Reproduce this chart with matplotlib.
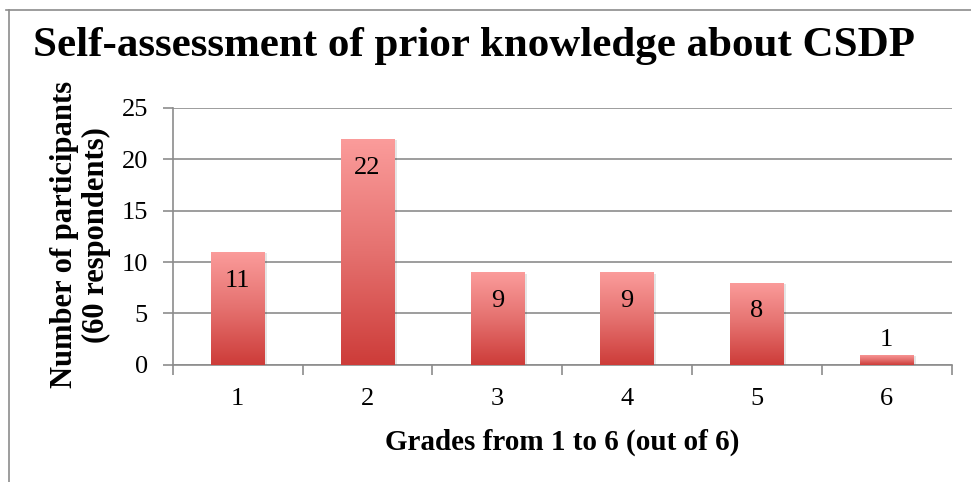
# Self-assessment bar chart
import numpy as np
import matplotlib.pyplot as plt
from matplotlib.colors import LinearSegmentedColormap
from matplotlib.patches import Rectangle

grades = ['1', '2', '3', '4', '5', '6']
participants = [11, 22, 9, 9, 8, 1]

plt.rcParams['font.family'] = ['Liberation Serif', 'DejaVu Serif']

fig = plt.figure(figsize=(9.71, 4.82), dpi=100)
ax = fig.add_axes([0.178, 0.243, 0.802, 0.533])

# chart frame (only top and left edges are visible in the crop)
fig.add_artist(plt.Line2D([0.006, 1.0], [0.979, 0.979], transform=fig.transFigure, color='#8c8c8c', lw=1.2))
fig.add_artist(plt.Line2D([0.0095, 0.0095], [0.0, 0.979], transform=fig.transFigure, color='#8c8c8c', lw=1.2))

x = np.arange(len(grades))
bars = ax.bar(x, participants, width=0.41, color='none', zorder=3)

cmap = LinearSegmentedColormap.from_list('redgrad', ['#cd3c39', '#e5716f', '#fb9c9b'])
grad = np.linspace(0, 1, 256).reshape(-1, 1)
for b, v in zip(bars, participants):
    x0, w, h = b.get_x(), b.get_width(), b.get_height()
    # soft shadow
    ax.add_patch(Rectangle((x0 + 0.02, -0.15), w, h, color='#000000', alpha=0.1, lw=0, zorder=2.5))
    im = ax.imshow(grad, cmap=cmap, aspect='auto', extent=[x0, x0 + w, 0, h],
                   origin='lower', zorder=3)
    im.set_clip_path(b)
    if v > 3:
        ax.text(b.get_x() + w / 2, h - 2.8, str(v), ha='center', va='center', fontsize=19, zorder=4)
    else:
        ax.text(b.get_x() + w / 2, h + 1.4, str(v), ha='center', va='center', fontsize=19, zorder=4)

ax.set_xlim(-0.5, 5.5)
ax.set_ylim(0, 25)
ax.set_yticks([0, 5, 10, 15, 20, 25])
ax.set_xticks(x)
ax.set_xticklabels(grades)
ax.set_xticks(np.arange(-0.5, 6, 1), minor=True)
ax.tick_params(axis='x', which='major', length=0, labelsize=19, pad=17)
ax.tick_params(axis='x', which='minor', length=7, color='#8c8c8c', width=1.2)
ax.tick_params(axis='y', length=7, color='#8c8c8c', width=1.2, labelsize=19, pad=11)
ax.yaxis.grid(True, color='#8c8c8c', lw=1.2, zorder=0)
ax.set_axisbelow(True)
for s in ['top', 'right']:
    ax.spines[s].set_visible(False)
for s in ['left', 'bottom']:
    ax.spines[s].set_color('#8c8c8c')
    ax.spines[s].set_linewidth(1.2)

ax.set_ylabel('Number of participants\n(60 respondents)', fontsize=22, fontweight='bold', linespacing=1.1)
ax.yaxis.set_label_coords(-0.08, 0.506)
ax.set_xlabel('Grades from 1 to 6 (out of 6)', fontsize=21, fontweight='bold', labelpad=13)
fig.text(0.034, 0.905, 'Self-assessment of prior knowledge about CSDP', fontsize=31, fontweight='bold', ha='left', va='center')

fig.savefig('out.png', dpi=100)
